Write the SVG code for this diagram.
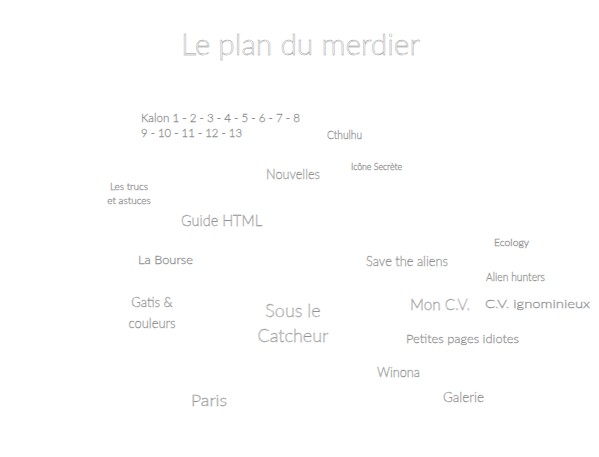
<svg xmlns="http://www.w3.org/2000/svg" width="599" height="457" viewBox="0 0 599 457">
<style>
text{font-family:Lato,"DejaVu Sans",sans-serif;font-weight:300;fill:#fff;stroke:#909090;stroke-width:0.4}
</style>
<rect width="599" height="457" fill="#fff"/>
<g id="title"><text x="181" y="55" font-size="30" textLength="239" lengthAdjust="spacingAndGlyphs">Le plan du merdier</text></g>
<g id="kalon">
<text x="141" y="122" font-size="11" textLength="159" lengthAdjust="spacingAndGlyphs">Kalon 1 - 2 - 3 - 4 - 5 - 6 - 7 - 8</text>
<text x="141" y="137" font-size="11" textLength="101" lengthAdjust="spacingAndGlyphs">9 - 10 - 11 - 12 - 13</text>
</g>
<g id="cthulhu"><text x="327" y="139" font-size="11" textLength="35" lengthAdjust="spacingAndGlyphs">Cthulhu</text></g>
<g id="icone"><text x="351" y="170" font-size="9" textLength="51" lengthAdjust="spacingAndGlyphs">Icône Secrète</text></g>
<g id="nouvelles"><text x="266" y="179" font-size="14" textLength="54" lengthAdjust="spacingAndGlyphs">Nouvelles</text></g>
<g id="trucs">
<text x="129" y="190" font-size="10" text-anchor="middle">Les trucs</text>
<text x="129" y="204" font-size="10" text-anchor="middle">et astuces</text>
</g>
<g id="guide"><text x="181" y="226" font-size="15" textLength="81" lengthAdjust="spacingAndGlyphs">Guide HTML</text></g>
<g id="ecology"><text x="494" y="246" font-size="10" textLength="35" lengthAdjust="spacingAndGlyphs">Ecology</text></g>
<g id="bourse"><text x="138" y="264" font-size="11" textLength="55" lengthAdjust="spacingAndGlyphs">La Bourse</text></g>
<g id="aliens"><text x="366" y="266" font-size="13" textLength="82" lengthAdjust="spacingAndGlyphs">Save the aliens</text></g>
<g id="hunters"><text x="486" y="281" font-size="11" textLength="59" lengthAdjust="spacingAndGlyphs">Alien hunters</text></g>
<g id="gatis">
<text x="152" y="307" font-size="13" text-anchor="middle">Gatis &amp;</text>
<text x="152" y="328" font-size="13" text-anchor="middle">couleurs</text>
</g>
<g id="catcheur">
<text x="293" y="317" font-size="18" text-anchor="middle">Sous le</text>
<text x="293" y="342" font-size="18" text-anchor="middle">Catcheur</text>
</g>
<g id="moncv"><text x="410" y="310" font-size="16" textLength="60" lengthAdjust="spacingAndGlyphs">Mon C.V.</text></g>
<g id="cvig"><text x="485" y="308" font-size="12" textLength="105" lengthAdjust="spacingAndGlyphs">C.V. ignominieux</text></g>
<g id="petites"><text x="406" y="343" font-size="12" textLength="113" lengthAdjust="spacingAndGlyphs">Petites pages idiotes</text></g>
<g id="winona"><text x="377" y="377" font-size="13" textLength="43" lengthAdjust="spacingAndGlyphs">Winona</text></g>
<g id="paris"><text x="191" y="406" font-size="15" textLength="36" lengthAdjust="spacingAndGlyphs">Paris</text></g>
<g id="galerie"><text x="443" y="402" font-size="13" textLength="41" lengthAdjust="spacingAndGlyphs">Galerie</text></g>
</svg>
